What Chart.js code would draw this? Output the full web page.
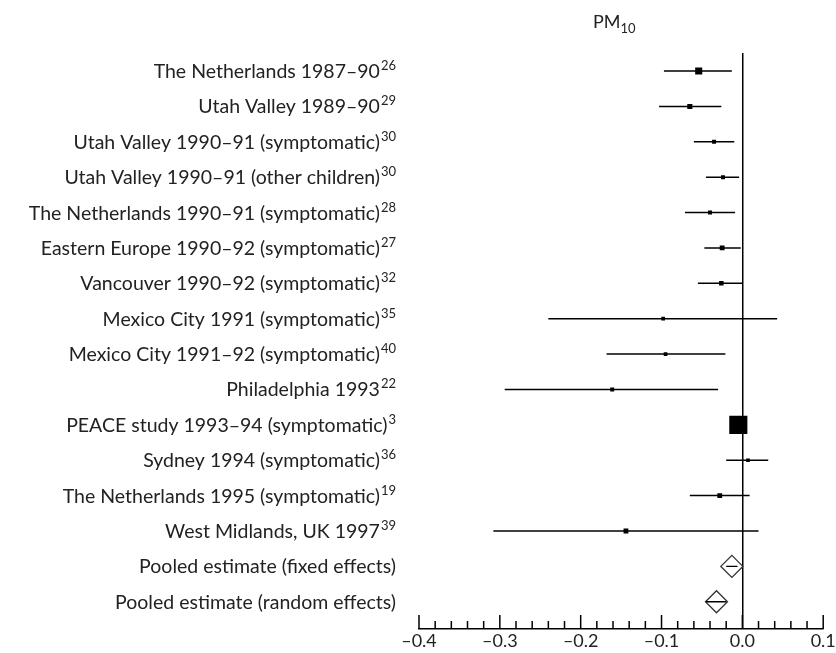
<!DOCTYPE html>
<html>
<head>
<meta charset="utf-8">
<script src="https://cdn.jsdelivr.net/npm/chart.js@4/dist/chart.umd.min.js"></script>
<style>
  html, body { margin: 0; padding: 0; background: #fff; }
  #wrap { width: 836px; height: 653px; }
</style>
</head>
<body>
<div id="wrap"><canvas id="forestChart" width="836" height="653"></canvas></div>
<script>
// Study names and reference numbers (superscripts)
const studies = [
    'The Netherlands 1987\u201390',
    'Utah Valley 1989\u201390',
    'Utah Valley 1990\u201391 (symptomatic)',
    'Utah Valley 1990\u201391 (other children)',
    'The Netherlands 1990\u201391 (symptomatic)',
    'Eastern Europe 1990\u201392 (symptomatic)',
    'Vancouver 1990\u201392 (symptomatic)',
    'Mexico City 1991 (symptomatic)',
    'Mexico City 1991\u201392 (symptomatic)',
    'Philadelphia 1993',
    'PEACE study 1993\u201394 (symptomatic)',
    'Sydney 1994 (symptomatic)',
    'The Netherlands 1995 (symptomatic)',
    'West Midlands, UK 1997',
    'Pooled estimate (fixed effects)',
    'Pooled estimate (random effects)'
];
const refs = ['26', '29', '30', '30', '28', '27', '32', '35', '40', '22', '3', '36', '19', '39', '', ''];

// Effect estimates and 95% CI for each study
const estimates = [-0.054, -0.065, -0.035, -0.024, -0.040, -0.025, -0.026, -0.098, -0.095, -0.161, -0.005, 0.007, -0.028, -0.144];
const lower     = [-0.097, -0.103, -0.060, -0.045, -0.071, -0.047, -0.055, -0.240, -0.168, -0.294, -0.012, -0.020, -0.065, -0.308];
const upper     = [-0.013, -0.026, -0.010, -0.004, -0.009, -0.002,  0.000,  0.043, -0.021, -0.030,  0.002,  0.032,  0.009,  0.020];
// study weight shown as square size
const weights   = [5, 3.6, 2.8, 2.8, 2.8, 3.4, 3.2, 2.6, 2.6, 2.8, 12.8, 2.6, 3.4, 3.4];

// Pooled estimates (fixed, random)
const pooledEst   = [-0.013, -0.032];
const pooledLower = [-0.020, -0.045];
const pooledUpper = [-0.006, -0.020];

const xTicks = [-0.4, -0.3, -0.2, -0.1, 0.0, 0.1];

const FONT = 'Lato, "DejaVu Sans", sans-serif';

// CI line datasets, one per study
const ciSets = estimates.map((e, i) => ({
    type: 'line',
    data: [{ x: lower[i], y: i + 1 }, { x: upper[i], y: i + 1 }],
    borderColor: '#000',
    borderWidth: 1.5,
    pointRadius: 0,
    order: 2
}));

const pooledLines = pooledEst.map((e, i) => ({
    type: 'line',
    data: [{ x: pooledLower[i], y: studies.length - 1 + i }, { x: pooledUpper[i], y: studies.length - 1 + i }],
    borderColor: '#000',
    borderWidth: 1.3,
    pointRadius: 0,
    order: 0
}));

const data = {
    datasets: [
        ...ciSets,
        {
            type: 'scatter',
            data: estimates.map((e, i) => ({ x: e, y: i + 1 })),
            pointStyle: 'rect',
            pointRadius: weights,
            backgroundColor: '#000',
            borderColor: '#000',
            borderWidth: 0,
            order: 1
        },
        {
            type: 'scatter',
            data: pooledEst.map((e, i) => ({ x: e, y: studies.length - 1 + i })),
            pointStyle: 'rectRot',
            pointRadius: 11,
            backgroundColor: '#fff',
            borderColor: '#333',
            borderWidth: 1.3,
            order: 1
        },
        ...pooledLines
    ]
};

// Row labels with superscript references, title, and axis tick marks
const forestDecor = {
    id: 'forestDecor',
    afterDraw(chart) {
        const ctx = chart.ctx;
        const ys = chart.scales.y;
        const xs = chart.scales.x;
        const right = 396;
        ctx.save();
        ctx.fillStyle = '#222';
        ctx.textBaseline = 'alphabetic';
        studies.forEach((s, i) => {
            const y = ys.getPixelForValue(i + 1) + 7;
            ctx.font = '13px ' + FONT;
            const supW = refs[i] ? ctx.measureText(refs[i]).width + 1 : 0;
            if (refs[i]) {
                ctx.textAlign = 'right';
                ctx.fillText(refs[i], right, y - 8);
            }
            ctx.font = '19.5px ' + FONT;
            ctx.textAlign = 'right';
            ctx.fillText(s, right - supW, y);
        });

        // title PM10
        ctx.font = '18px ' + FONT;
        ctx.textAlign = 'left';
        ctx.fillText('PM', 593, 28);
        const pmW = ctx.measureText('PM').width;
        ctx.font = '13px ' + FONT;
        ctx.fillText('10', 593 + pmW, 33);

        // tick marks: major every 0.1, minor every 0.02
        const base = chart.chartArea.bottom;
        ctx.strokeStyle = '#000';
        ctx.lineWidth = 1.5;
        for (let k = -20; k <= 5; k++) {
            const v = k * 0.02;
            const px = xs.getPixelForValue(v);
            const major = k % 5 === 0;
            ctx.beginPath();
            ctx.moveTo(px, base);
            ctx.lineTo(px, base - (major ? 14 : 8));
            ctx.stroke();
        }
        ctx.restore();
    }
};

const config = {
    type: 'scatter',
    data: data,
    options: {
        responsive: false,
        animation: false,
        layout: { padding: { left: 419, right: 11, top: 53, bottom: 0 } },
        plugins: {
            legend: { display: false },
            tooltip: { enabled: false }
        },
        scales: {
            x: {
                type: 'linear',
                min: -0.4,
                max: 0.1,
                afterBuildTicks(scale) {
                    scale.ticks = xTicks.map(v => ({ value: v }));
                },
                afterFit(scale) {
                    scale.paddingLeft = 0;
                    scale.paddingRight = 0;
                },
                grid: {
                    drawTicks: false,
                    color: c => (Math.abs(c.tick.value) < 1e-9 ? '#000' : 'rgba(0,0,0,0)'),
                    lineWidth: 1.5
                },
                border: { display: true, color: '#000', width: 1.5 },
                ticks: {
                    padding: 3,
                    color: '#222',
                    font: { family: FONT, size: 18, lineHeight: 1 },
                    maxRotation: 0,
                    callback: v => (v < 0 ? '\u2013' : '') + Math.abs(v).toFixed(1)
                }
            },
            y: {
                type: 'linear',
                display: false,
                reverse: true,
                min: 0.49,
                max: 16.77
            }
        }
    },
    plugins: [forestDecor]
};

window.onload = function() {
    const ctx = document.getElementById('forestChart').getContext('2d');
    new Chart(ctx, config);
};
</script>
</body>
</html>
